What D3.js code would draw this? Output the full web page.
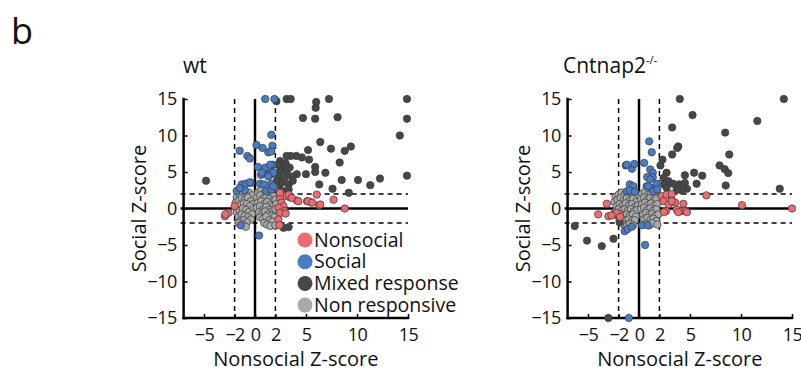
<!DOCTYPE html>
<html>
<head>
<meta charset="utf-8">
<script src="https://cdn.jsdelivr.net/npm/d3@7"></script>
<style>
  html, body { margin: 0; padding: 0; background: #fff; }
  svg { display: block; font-family: "Open Sans", "Noto Sans", sans-serif; }
</style>
</head>
<body>
<svg id="chart" width="801" height="375"></svg>
<script>
// Response categories and their colours
const categories = ["Nonsocial", "Social", "Mixed response", "Non responsive"];
const categoryColors = ["#ee6b6f", "#4a7bc5", "#474747", "#a9a9a9"];

const xTicks = [-5, -2, 0, 2, 5, 10, 15];
const yTicks = [-15, -10, -5, 0, 5, 10, 15];
const threshold = 2;

// wt: [nonsocial z, social z]
const wtNonresponsive = [
  [-1.8,1.5],[-1.5,2.0],[-1.2,2.3],[-0.9,2.0],[-0.6,2.2],[-0.3,1.8],
  [-1.9,0.8],[-1.6,1.1],[-1.3,1.4],[-1.0,1.2],[-0.7,1.5],[-0.4,1.0],[-0.2,0.6],
  [-1.7,0.2],[-1.4,0.5],[-1.1,0.7],[-0.8,0.6],[-0.5,0.3],[-0.2,-0.1],
  [-1.8,-0.5],[-1.5,-0.3],[-1.2,0.0],[-0.9,-0.2],[-0.6,-0.5],[-0.3,-0.8],
  [-1.6,-1.1],[-1.3,-0.8],[-1.0,-1.0],[-0.7,-1.2],[-0.4,-1.5],
  [-1.4,-1.7],[-1.1,-1.6],[-0.8,-1.9],[-1.2,-2.2],[-0.9,-2.5],[-1.6,-2.0],
  [0.3,2.2],[0.6,2.5],[0.9,2.1],[1.2,2.3],[1.5,2.0],[1.8,1.7],
  [0.2,1.5],[0.5,1.8],[0.8,1.4],[1.1,1.6],[1.4,1.3],[1.7,1.0],[2.0,1.2],
  [0.3,0.8],[0.6,1.0],[0.9,0.6],[1.2,0.9],[1.5,0.5],[1.8,0.3],[2.1,0.6],
  [0.2,0.1],[0.5,0.3],[0.8,-0.1],[1.1,0.2],[1.4,-0.2],[1.7,-0.4],[2.0,-0.1],
  [0.4,-0.5],[0.7,-0.7],[1.0,-0.4],[1.3,-0.8],[1.6,-1.0],[1.9,-1.2],
  [0.5,-1.2],[0.8,-1.4],[1.1,-1.1],[1.4,-1.6],[1.7,-1.8],
  [0.9,-2.0],[1.2,-2.2],[1.5,-2.4],[2.0,-2.3]
];
const wtMixed = [
  [-4.8,3.8],[2.1,14.7],[3.1,15],[3.5,15],[6.0,14.6],[5.95,13.8],[5.9,12.3],
  [4.7,12.4],[7.25,15],[8.1,12.5],[14.9,15],[14.9,12.3],[14.2,10.0],[14.9,4.5],
  [6.4,9.1],[7.45,8.2],[9.4,8.5],[8.8,7.9],[8.3,6.3],[5.2,8.0],[5.3,6.7],
  [4.6,7.0],[4.05,7.2],[3.5,7.2],[3.1,7.2],[5.9,5.7],[5.9,5.0],[6.9,4.9],
  [5.0,4.7],[4.1,4.7],[6.3,3.3],[8.5,3.9],[10.1,3.9],[11.3,3.2],[12.25,4.1],
  [7.6,2.7],[9.2,2.15],
  [2.45,6.5],[2.8,5.8],[2.45,5.1],[3.1,5.1],[2.3,4.4],[2.9,4.2],[3.6,4.4],
  [2.6,3.5],[2.3,2.8],[3.3,3.3],[2.1,3.7],[3.0,6.2],[3.4,5.6],[2.2,6.0],
  [3.7,3.8],[2.7,2.4],[3.3,2.6],
  [2.8,-2.65],[3.3,-2.55]
];
const wtSocial = [
  [1.0,15],[1.9,15],[1.6,10.1],[0.15,8.7],[0.75,8.3],[1.7,8.6],[1.3,7.7],[1.6,7.8],
  [-1.5,7.9],[-0.75,7.2],[-0.5,6.85],[0.3,5.7],[1.25,5.2],[1.55,5.4],[1.7,6.0],
  [1.3,4.5],[1.7,4.7],[0.6,4.6],[-1.3,3.3],[-0.9,3.4],[-0.4,3.5],[-1.8,2.4],
  [-1.0,2.5],[0.5,3.4],[0.9,3.3],[1.6,3.4],[1.95,2.8],[1.1,2.4],[1.6,2.6],
  [1.8,3.05],[1.0,5.6],[1.5,6.0],[0.65,4.9],[1.8,4.9],[1.3,4.4],[-0.5,3.6],[-1.5,2.8],
  [-1.4,-2.3],[0.4,-3.7]
];
const wtNonsocial = [
  [6.05,1.9],[7.7,1.2],[6.3,0.45],[5.1,1.0],[5.5,0.85],[8.8,0.0],[4.1,1.1],
  [5.2,1.0],[5.6,0.8],[6.4,0.55],[3.4,1.55],[2.9,1.7],[2.45,1.45],[2.6,0.8],
  [2.8,0.3],[2.9,-0.35],[2.45,2.15],[3.3,1.9],[3.6,1.45],[4.25,1.0],[2.3,0.1],
  [2.45,-0.6],[2.3,-1.5],[2.4,-2.3],[3.0,-0.7],
  [-2.0,0.3],[-2.6,-0.6],[-2.95,-1.05],[-2.9,-0.8]
];

// Cntnap2-/-: [nonsocial z, social z]
const koNonresponsive = [
  [-2.3,1.6],[-2.0,1.9],[-1.7,2.2],[-1.4,1.9],[-1.1,2.1],[-0.8,1.8],[-0.5,2.0],[-0.2,1.6],
  [-2.4,0.9],[-2.1,1.2],[-1.8,1.4],[-1.5,1.1],[-1.2,1.4],[-0.9,1.1],[-0.6,1.3],[-0.3,0.9],
  [-2.2,0.3],[-1.9,0.6],[-1.6,0.4],[-1.3,0.7],[-1.0,0.4],[-0.7,0.6],[-0.4,0.2],[-0.1,0.4],
  [-2.3,-0.4],[-2.0,-0.1],[-1.7,-0.3],[-1.4,-0.1],[-1.1,-0.3],[-0.8,-0.1],[-0.5,-0.4],[-0.2,-0.2],
  [-2.1,-1.0],[-1.8,-0.8],[-1.5,-1.0],[-1.2,-0.8],[-0.9,-1.0],[-0.6,-0.8],[-0.3,-1.1],
  [-1.9,-1.6],[-1.6,-1.5],[-1.3,-1.7],[-1.0,-1.5],[-0.7,-1.7],[-0.4,-1.6],
  [-1.5,-2.2],[-1.2,-2.4],[-0.9,-2.1],[-0.6,-2.3],
  [0.3,2.0],[0.6,2.3],[0.9,1.9],[1.2,2.1],[1.5,1.8],
  [0.2,1.3],[0.5,1.5],[0.8,1.2],[1.1,1.4],[1.4,1.1],[1.7,1.3],
  [0.3,0.6],[0.6,0.8],[0.9,0.5],[1.2,0.7],[1.5,0.4],[1.8,0.6],
  [0.2,-0.1],[0.5,0.1],[0.8,-0.2],[1.1,0.0],[1.4,-0.3],[1.7,-0.1],
  [0.4,-0.8],[0.7,-0.6],[1.0,-0.9],[1.3,-0.7],[1.6,-1.0],[1.9,-0.8],
  [0.5,-1.5],[0.8,-1.3],[1.1,-1.6],[1.4,-1.4],[1.7,-1.7],
  [0.7,-2.1],[1.0,-2.3],[1.3,-2.0],[1.8,-2.2]
];
const koMixed = [
  [4.0,15],[14.2,15],[5.25,12.8],[11.6,12.0],[3.25,11.1],[8.45,10.4],[3.85,8.5],[3.75,8.3],
  [3.25,7.4],[8.85,7.4],[2.3,6.7],[2.1,5.9],[7.9,5.9],[8.4,5.4],[8.75,4.85],[5.4,4.9],
  [6.2,4.5],[4.5,4.55],[8.5,3.15],[13.8,2.7],[5.65,3.4],
  [2.7,4.9],[2.4,4.2],[2.9,3.75],[3.35,3.4],[3.95,3.3],[4.5,3.5],[4.7,2.7],[4.2,2.45],
  [3.7,2.6],[2.45,3.3],[2.7,2.85],
  [-6.3,-2.4],[-5.1,-4.4],[-3.65,-5.15],[-2.5,-4.15],[-3.0,-15],[-1.9,-1.9]
];
const koSocial = [
  [1.25,7.7],[1.0,9.2],[-1.3,5.9],[-0.7,5.45],[-0.45,6.1],[0.5,6.25],[1.1,5.35],[1.35,4.9],
  [-0.9,3.3],[-0.55,3.05],[-1.2,2.35],[-0.9,2.45],[-0.4,2.3],[0.75,3.05],[1.15,2.85],
  [1.4,2.35],[1.75,3.4],[1.8,2.6],[0.8,4.3],[1.35,4.3],[-1.2,6.0],[1.1,4.0],[0.9,3.05],
  [-1.0,-15],[0.6,-5.0],[-1.4,-3.1],[-1.1,-2.8],[-0.7,-2.5],[0.3,-2.3],[0.85,-2.3]
];
const koNonsocial = [
  [6.6,1.8],[10.1,0.45],[15,0.0],[4.35,0.65],[-3.15,0.65],[-4.0,-0.8],[-3.0,-1.05],
  [-2.5,-0.8],[-2.2,-0.6],[-2.7,-0.95],[-1.85,-1.15],
  [2.2,1.7],[2.7,1.9],[3.2,1.25],[3.55,0.8],[2.4,1.0],[2.9,0.55],[3.7,-0.15],[4.2,-0.35],
  [4.55,-0.35],[2.65,-0.35],[3.2,2.0],[3.2,1.0],[2.45,-0.5],[3.85,-0.5],[4.7,-0.5]
];

const svg = d3.select("#chart");

svg.append("text")
  .attr("x", 11).attr("y", 44)
  .attr("font-size", 36)
  .attr("fill", "#111")
  .text("b");

function drawPanel(opts) {
  const x = d3.scaleLinear().domain([-7, 15]).range([opts.left, opts.left + 224.4]);
  const y = d3.scaleLinear().domain([-15, 15]).range([318, 99]);
  const g = svg.append("g");

  // reference lines at 0 and at the +/-2 thresholds
  g.append("line")
    .attr("x1", x(-7) - 3).attr("x2", x(15))
    .attr("y1", y(0)).attr("y2", y(0))
    .attr("stroke", "#000").attr("stroke-width", 2.5);
  [-threshold, threshold].forEach(t => {
    g.append("line")
      .attr("x1", x(-7) - 3).attr("x2", x(15))
      .attr("y1", y(t)).attr("y2", y(t))
      .attr("stroke", "#000").attr("stroke-width", 1.5)
      .attr("stroke-dasharray", "5,4");
    g.append("line")
      .attr("x1", x(t)).attr("x2", x(t))
      .attr("y1", y(15)).attr("y2", y(-15))
      .attr("stroke", "#000").attr("stroke-width", 1.5)
      .attr("stroke-dasharray", "5,4");
  });
  g.append("line")
    .attr("x1", x(0)).attr("x2", x(0))
    .attr("y1", y(15)).attr("y2", y(-15))
    .attr("stroke", "#000").attr("stroke-width", 2.5);

  // axes with inward ticks
  const xAxis = d3.axisBottom(x).tickValues(xTicks).tickSize(-4).tickPadding(10)
    .tickFormat(d3.format("d"));
  const yAxis = d3.axisLeft(y).tickValues(yTicks).tickSize(-4).tickPadding(7)
    .tickFormat(d3.format("d"));

  const gx = g.append("g").attr("transform", `translate(0,${y(-15)})`).call(xAxis);
  const gy = g.append("g").attr("transform", `translate(${x(-7)},0)`).call(yAxis);
  [gx, gy].forEach(a => {
    a.select(".domain").remove();
    a.selectAll(".tick line").attr("stroke", "#000").attr("stroke-width", 1.5);
    a.selectAll(".tick text").attr("font-size", 18).attr("fill", "#111")
      .attr("letter-spacing", "-0.6px")
      .attr("font-family", "'Open Sans', sans-serif");
  });
  g.append("line")
    .attr("x1", x(-7)).attr("x2", x(15))
    .attr("y1", y(-15)).attr("y2", y(-15))
    .attr("stroke", "#000").attr("stroke-width", 2.5).attr("stroke-linecap", "square");
  g.append("line")
    .attr("x1", x(-7)).attr("x2", x(-7))
    .attr("y1", y(15)).attr("y2", y(-15))
    .attr("stroke", "#000").attr("stroke-width", 2.5).attr("stroke-linecap", "square");

  // points: non responsive underneath, then mixed, social, nonsocial
  const layers = [
    [opts.nonresponsive, categoryColors[3]],
    [opts.mixed, categoryColors[2]],
    [opts.social, categoryColors[1]],
    [opts.nonsocial, categoryColors[0]]
  ];
  layers.forEach(([pts, col]) => {
    g.append("g").selectAll("circle").data(pts).join("circle")
      .attr("cx", d => x(d[0])).attr("cy", d => y(Math.max(-15, Math.min(15, d[1]))))
      .attr("r", 3.7)
      .attr("fill", col)
      .attr("stroke", "#3a3a3a").attr("stroke-width", 0.7);
  });

  // axis labels
  g.append("text")
    .attr("x", (x(-7) + x(15)) / 2).attr("y", 366)
    .attr("text-anchor", "middle").attr("font-size", 20).attr("fill", "#111")
    .text("Nonsocial Z-score");
  g.append("text")
    .attr("transform", `translate(${x(-7) - 38},${y(0)}) rotate(-90)`)
    .attr("text-anchor", "middle").attr("font-size", 20).attr("fill", "#111")
    .text("Social Z-score");

  // title
  const t = g.append("text")
    .attr("x", opts.titleX).attr("y", 73)
    .attr("font-size", 21).attr("fill", "#111")
    .text(opts.title);
  if (opts.titleSup) {
    t.append("tspan").attr("font-size", 11).attr("dy", -9).text(opts.titleSup);
  }
  return { x, y, g };
}

drawPanel({
  left: 183.6, title: "wt", titleX: 183,
  nonresponsive: wtNonresponsive, mixed: wtMixed, social: wtSocial, nonsocial: wtNonsocial
});
drawPanel({
  left: 567.6, title: "Cntnap2", titleSup: "-/-", titleX: 563,
  nonresponsive: koNonresponsive, mixed: koMixed, social: koSocial, nonsocial: koNonsocial
});

// legend in the wt panel
const legend = svg.append("g");
categories.forEach((c, i) => {
  const row = legend.append("g").attr("transform", `translate(305,${240 + i * 21.7})`);
  row.append("circle").attr("r", 7.5).attr("fill", categoryColors[i]);
  row.append("text").attr("x", 9).attr("y", 6.5)
    .attr("font-size", 19.5).attr("fill", "#111").text(c);
});
</script>
</body>
</html>
